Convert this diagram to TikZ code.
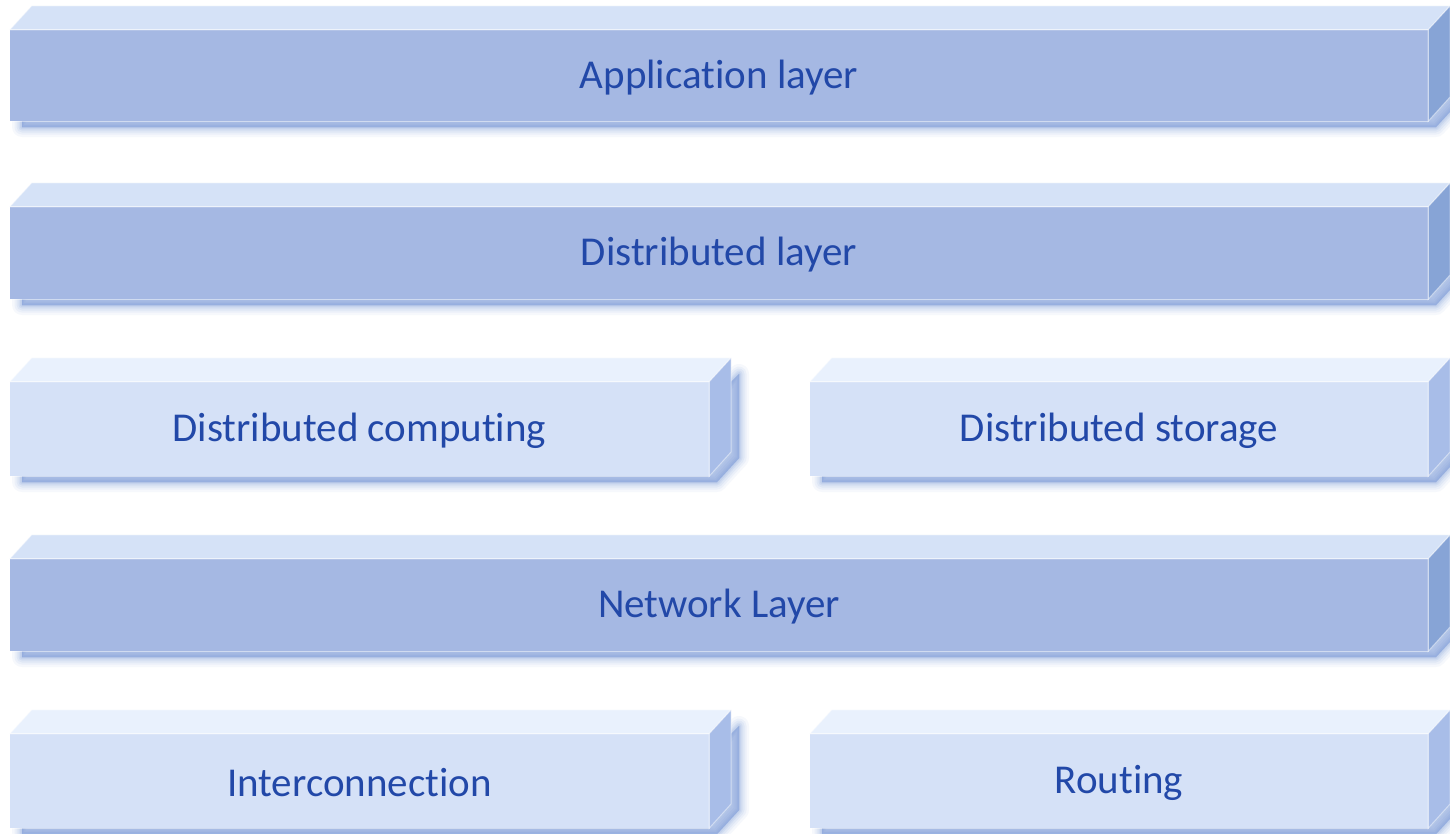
\documentclass[tikz,border=0pt]{standalone}
\usepackage{fontspec}
\setmainfont{Carlito}[Ligatures={NoCommon}]
\definecolor{darkfront}{HTML}{A5B8E3}
\definecolor{darktop}{HTML}{D5E2F7}
\definecolor{darkside}{HTML}{87A4D6}
\definecolor{lightfront}{HTML}{D5E1F7}
\definecolor{lighttop}{HTML}{E9F1FD}
\definecolor{lightside}{HTML}{A8BDE8}
\definecolor{shadowc}{HTML}{6F92D6}
\definecolor{textc}{HTML}{2248A8}
\tikzset{
  frontface/.style={rectangle, inner sep=0pt},
  labeltext/.style={text=textc, font=\fontsize{41}{48}\selectfont, inner sep=0pt},
  edgeline/.style={draw=white, draw opacity=0.45, line width=1pt},
}
% #1 name, #2 x1, #3 y1, #4 x2, #5 y2, #6 text, #7 colour prefix
\newcommand\layerbox[7]{%
  \foreach \w/\o in {20/0.06,15/0.08,11/0.09,7/0.11,4/0.13,1/0.16}{%
    \filldraw[shadowc, opacity=\o, line width=\w pt, line join=round]
      ({#2+12},{#3+14}) -- ({#4+8},{#3+14}) -- ({#4+30},{#3-8}) --
      ({#4+30},{#5-18}) -- ({#4+8},{#5+6}) -- ({#2+12},{#5+6}) -- cycle;
  }
  \node[frontface, fill=#7front, minimum width={(#4-#2)*1pt},
        minimum height={(#5-#3)*1pt}] (#1) at ({(#2+#4)/2},{(#3+#5)/2}) {};
  \node[labeltext] (#1-label) at ([yshift=-2pt]#1.center) {#6};
  \filldraw[fill=#7top, edgeline] (#1.north west) -- ++(22,-24) -- ++({#4-#2},0)
     -- (#1.north east) -- cycle;
  \filldraw[fill=#7side, edgeline] (#1.north east) -- ++(22,-24) -- ++(0,{#5-#3})
     -- (#1.south east) -- cycle;
  \draw[edgeline] (#1.north west) rectangle (#1.south east);
}
\begin{document}
\begin{tikzpicture}[x=1pt,y=-1pt]
  \useasboundingbox[fill=white] (0,0) rectangle (1450,833);
  \layerbox{app}{10}{30}{1428}{121}{Application layer}{dark}
  \layerbox{dist}{10}{207}{1428}{299}{Distributed layer}{dark}
  \layerbox{comp}{10}{382}{709}{476}{Distributed computing}{light}
  \layerbox{stor}{810}{382}{1428}{476}{Distributed storage}{light}
  \layerbox{net}{10}{559}{1428}{651}{Network Layer}{dark}
  \layerbox{inter}{10}{734}{709}{828}{Interconnection}{light}
  \layerbox{rout}{810}{734}{1428}{828}{Routing}{light}
\end{tikzpicture}
\end{document}
